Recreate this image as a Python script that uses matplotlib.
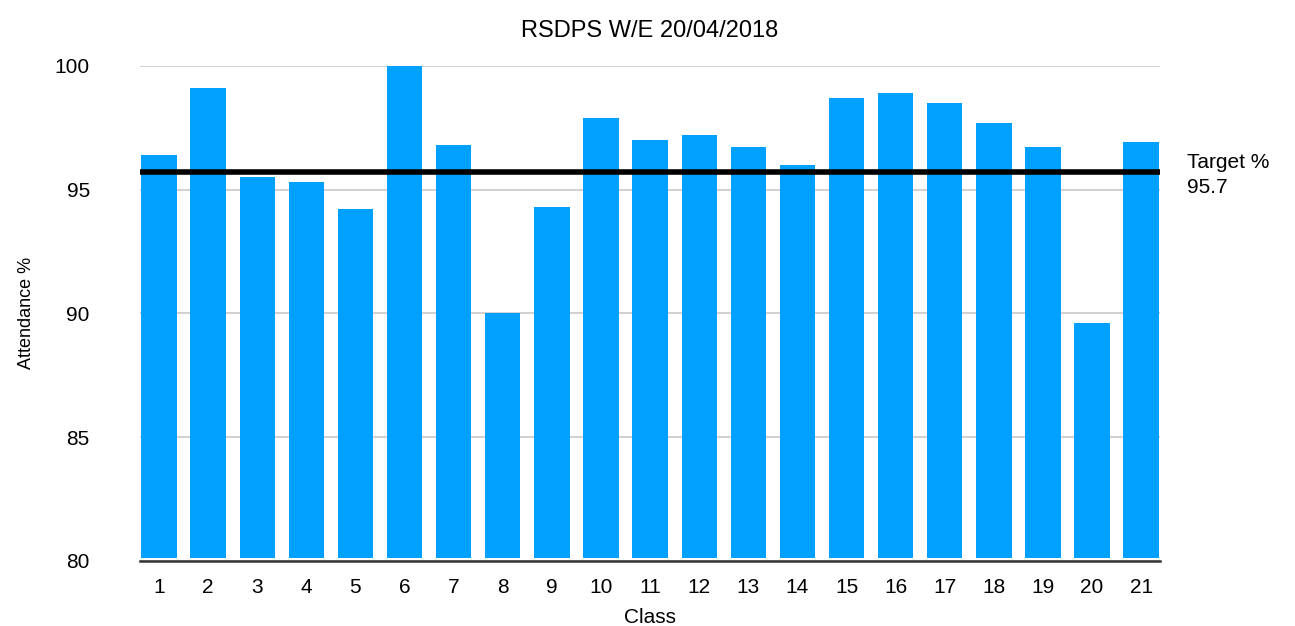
import matplotlib
matplotlib.use('Agg')
import matplotlib.pyplot as plt

# weekly attendance by class
classes = [str(i) for i in range(1, 22)]
attendance = [96.4, 99.1, 95.5, 95.3, 94.2, 100.0, 96.8, 90.0, 94.3, 97.9,
              97.0, 97.2, 96.7, 96.0, 98.7, 98.9, 98.5, 97.7, 96.7, 89.6, 96.9]
target = 95.7

plt.rcParams['font.family'] = ['Liberation Sans', 'DejaVu Sans']

fig = plt.figure(figsize=(12.95, 6.26), dpi=100)
ax = fig.add_axes([0.108, 0.104, 0.788, 0.791])

x = list(range(1, len(classes) + 1))
base = 80.1
ax.bar(x, [a - base for a in attendance], bottom=base, width=0.72,
       color='#00a0ff', zorder=2)
ax.axhline(target, color='black', lw=4, zorder=3)
ax.text(1.026, target - 0.1, 'Target %\n' + str(target), transform=ax.get_yaxis_transform(),
        fontsize=15, va='center', ha='left', linespacing=1.4)

ax.set_xlim(0.61, 21.39)
ax.set_ylim(80, 100)
ax.set_yticks([80, 85, 90, 95, 100])
ax.set_xticks(x)
ax.set_xticklabels(classes)
ax.grid(axis='y', color='#c8c8c8', lw=1.2, zorder=0)
for s in ['top', 'right', 'left']:
    ax.spines[s].set_visible(False)
ax.spines['bottom'].set_linewidth(1.8)
ax.spines['bottom'].set_color('#333333')
ax.tick_params(length=0, labelsize=15, pad=12)
ax.tick_params(axis='y', pad=36)

ax.set_title('RSDPS W/E 20/04/2018', fontsize=17, pad=21)
ax.set_xlabel('Class', fontsize=15, labelpad=8)
ax.set_ylabel('Attendance %', fontsize=13, labelpad=14)

fig.savefig('out.png', dpi=100)
